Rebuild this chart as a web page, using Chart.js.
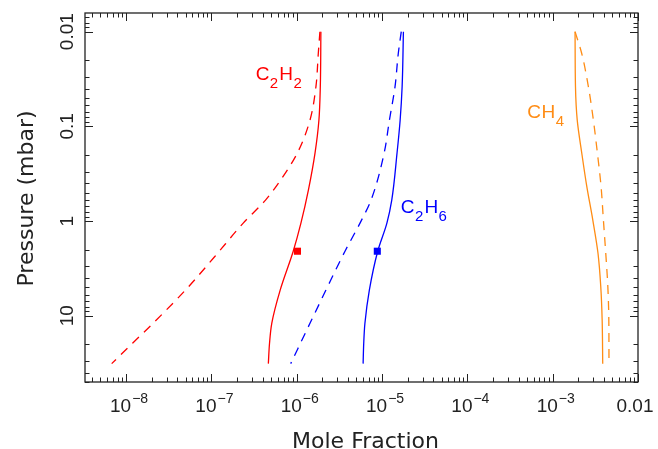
<!DOCTYPE html>
<html>
<head>
<meta charset="utf-8">
<script src="https://cdn.jsdelivr.net/npm/chart.js@4.4.1/dist/chart.umd.min.js"></script>
<style>
    html, body { margin: 0; padding: 0; background: #fff; }
    #wrap { width: 658px; height: 449px; }
</style>
</head>
<body>
<div id="wrap"><canvas id="chart" width="658" height="449"></canvas></div>
<script>
// axis ranges (mole fraction, pressure in mbar)
const xMin = 3.3e-9, xMax = 0.01;
const yMin = 0.00635, yMax = 50;

// tick labels
const xTickValues = [1e-8, 1e-7, 1e-6, 1e-5, 1e-4, 1e-3, 1e-2];
const xTickLabels = [["10", "\u22128"], ["10", "\u22127"], ["10", "\u22126"], ["10", "\u22125"], ["10", "\u22124"], ["10", "\u22123"], ["0.01", ""]];
const yTickValues = [0.01, 0.1, 1, 10];
const yTickLabels = ["0.01", "0.1", "1", "10"];

// C2H2 profiles
const c2h2SolidP = [0.01, 0.038, 0.086, 0.19, 0.47, 1.05, 2.08, 5.35, 12, 19.5, 32];
const c2h2SolidX = [1.92e-6, 1.89e-6, 1.82e-6, 1.64e-6, 1.37e-6, 1.12e-6, 9.1e-7, 6.4e-7, 5.1e-7, 4.8e-7, 4.65e-7];
const c2h2DashP = [0.01, 0.017, 0.038, 0.086, 0.19, 0.37, 0.6, 1.05, 2.38, 5.35, 12, 19.5, 32];
const c2h2DashX = [1.87e-6, 1.79e-6, 1.68e-6, 1.43e-6, 1.02e-6, 6.46e-7, 4.31e-7, 2.36e-7, 1.09e-7, 4.97e-8, 2.07e-8, 1.19e-8, 6.78e-9];

// C2H6 profiles
const c2h6SolidP = [0.01, 0.038, 0.086, 0.19, 0.6, 1.05, 2.08, 5.35, 12, 19.5, 32];
const c2h6SolidX = [1.78e-5, 1.72e-5, 1.63e-5, 1.5e-5, 1.3e-5, 1.14e-5, 8.9e-6, 7.1e-6, 6.3e-6, 6.1e-6, 6.0e-6];
const c2h6DashP = [0.01, 0.017, 0.038, 0.086, 0.19, 0.6, 1.05, 2.08, 5.35, 12, 32];
const c2h6DashX = [1.68e-5, 1.55e-5, 1.42e-5, 1.22e-5, 1.06e-5, 7.43e-6, 5.52e-6, 3.68e-6, 2.2e-6, 1.43e-6, 8.5e-7];

// CH4 profiles
const ch4SolidP = [0.01, 0.038, 0.086, 0.19, 0.43, 0.97, 2.2, 4.9, 11, 32];
const ch4SolidX = [1.83e-3, 1.85e-3, 1.94e-3, 2.19e-3, 2.51e-3, 2.95e-3, 3.4e-3, 3.66e-3, 3.8e-3, 3.86e-3];
const ch4DashP = [0.01, 0.017, 0.038, 0.086, 0.19, 0.43, 0.97, 2.2, 4.9, 11, 32];
const ch4DashX = [1.83e-3, 2.19e-3, 2.62e-3, 3.0e-3, 3.34e-3, 3.69e-3, 3.93e-3, 4.19e-3, 4.43e-3, 4.55e-3, 4.57e-3];

// observed values
const c2h2Obs = [{ x: 1.02e-6, y: 2.08 }];
const c2h6Obs = [{ x: 8.8e-6, y: 2.08 }];

const RED = "#ff0000";
const BLUE = "#0000ff";
const ORANGE = "rgb(255,140,20)";
const INK = "#222";

// species names, anchored at text start / baseline (data coords)
const speciesLabels = [
    { text: "C2H2", color: RED, x: 3.3e-7, p: 0.032 },
    { text: "C2H6", color: BLUE, x: 1.66e-5, p: 0.82 },
    { text: "CH4", color: ORANGE, x: 5.05e-4, p: 0.0815 }
];

function toPoints(xs, ps) {
    return ps.map((p, i) => ({ x: xs[i], y: p }));
}

function profile(xs, ps, color, dashed) {
    return {
        data: toPoints(xs, ps),
        borderColor: color,
        borderWidth: 1.3,
        borderDash: dashed ? [9, 7] : [],
        pointRadius: 0,
        cubicInterpolationMode: "monotone",
        fill: false
    };
}

function obs(points, color) {
    return {
        data: points,
        showLine: false,
        pointStyle: "rect",
        pointRadius: 5,
        pointBorderWidth: 0,
        pointBackgroundColor: color,
        pointBorderColor: color
    };
}

// all 1..9 x 10^n values inside a range
function logTicks(min, max) {
    const out = [];
    for (let e = Math.floor(Math.log10(min)); e <= Math.ceil(Math.log10(max)); e++) {
        for (let m = 1; m <= 9; m++) {
            const v = m * Math.pow(10, e);
            if (v >= min * 0.999 && v <= max * 1.001) out.push({ v, major: m === 1 });
        }
    }
    return out;
}

const frameAxes = {
    id: "frameAxes",
    afterDraw(chart) {
        const g = chart.ctx;
        const a = chart.chartArea;
        const sx = chart.scales.x, sy = chart.scales.y;
        g.save();
        g.strokeStyle = INK;
        g.lineWidth = 1.3;
        g.strokeRect(a.left, a.top, a.right - a.left, a.bottom - a.top);

        // inward ticks on all four sides
        g.lineWidth = 1;
        g.beginPath();
        logTicks(xMin, xMax).forEach(t => {
            const px = Math.round(sx.getPixelForValue(t.v)) + 0.5;
            const len = t.major ? 8 : 4.5;
            g.moveTo(px, a.bottom); g.lineTo(px, a.bottom - len);
            g.moveTo(px, a.top); g.lineTo(px, a.top + len);
        });
        logTicks(yMin, yMax).forEach(t => {
            const py = Math.round(sy.getPixelForValue(t.v)) + 0.5;
            const len = t.major ? 8 : 4.5;
            g.moveTo(a.left, py); g.lineTo(a.left + len, py);
            g.moveTo(a.right, py); g.lineTo(a.right - len, py);
        });
        g.stroke();

        // x tick labels with superscript exponents
        g.fillStyle = INK;
        g.textBaseline = "alphabetic";
        g.textAlign = "left";
        xTickValues.forEach((v, i) => {
            const [base, exp] = xTickLabels[i];
            const px = sx.getPixelForValue(v);
            g.font = "19px 'Liberation Sans'";
            const wb = g.measureText(base).width;
            g.font = "14px 'Liberation Sans'";
            const we = exp ? g.measureText(exp).width + 1 : 0;
            const x0 = px - (wb + we) / 2 + (exp ? 3 : -3);
            g.font = "19px 'Liberation Sans'";
            g.fillText(base, x0, a.bottom + 30);
            if (exp) {
                g.font = "14px 'Liberation Sans'";
                g.fillText(exp, x0 + wb + 1, a.bottom + 21);
            }
        });

        // y tick labels, rotated to read upwards
        g.font = "19px 'Liberation Sans'";
        g.textAlign = "center";
        yTickValues.forEach((v, i) => {
            const py = sy.getPixelForValue(v);
            g.save();
            g.setTransform(0, -1, 1, 0, a.left - 12, py);
            g.fillText(yTickLabels[i], 0, 0);
            g.restore();
        });

        // axis titles
        g.font = "22px 'DejaVu Sans'";
        g.fillText("Mole Fraction", (a.left + a.right) / 2 + 4, 448);
        g.save();
        g.setTransform(0, -1, 1, 0, 33, (a.top + a.bottom) / 2 + 1);
        g.fillText("Pressure (mbar)", 0, 0);
        g.restore();

        // species names with subscripted digits
        g.textAlign = "left";
        speciesLabels.forEach(l => {
            let x = sx.getPixelForValue(l.x);
            const y = sy.getPixelForValue(l.p);
            g.fillStyle = l.color;
            for (const ch of l.text) {
                const sub = /[0-9]/.test(ch);
                g.font = sub ? "15px 'Liberation Sans'" : "19px 'Liberation Sans'";
                g.fillText(ch, x, sub ? y + 8 : y);
                x += g.measureText(ch).width + (sub ? 1 : 0.5);
            }
        });
        g.restore();
    }
};

new Chart(document.getElementById("chart"), {
    type: "line",
    data: {
        datasets: [
            profile(c2h2SolidX, c2h2SolidP, RED, false),
            profile(c2h2DashX, c2h2DashP, RED, true),
            profile(c2h6SolidX, c2h6SolidP, BLUE, false),
            profile(c2h6DashX, c2h6DashP, BLUE, true),
            profile(ch4SolidX, ch4SolidP, ORANGE, false),
            profile(ch4DashX, ch4DashP, ORANGE, true),
            obs(c2h2Obs, RED),
            obs(c2h6Obs, BLUE)
        ]
    },
    options: {
        indexAxis: "y",
        responsive: false,
        animation: false,
        devicePixelRatio: 1,
        layout: { padding: { left: 0, right: 20, top: 13, bottom: 0 } },
        plugins: {
            legend: { display: false },
            tooltip: { enabled: false }
        },
        scales: {
            x: {
                type: "logarithmic",
                position: "bottom",
                min: xMin,
                max: xMax,
                grid: { display: false },
                border: { display: false },
                ticks: { display: false },
                afterFit(s) { s.height = 67; }
            },
            y: {
                type: "logarithmic",
                position: "left",
                reverse: true,
                min: yMin,
                max: yMax,
                grid: { display: false },
                border: { display: false },
                ticks: { display: false },
                afterFit(s) { s.width = 85; }
            }
        }
    },
    plugins: [frameAxes]
});
</script>
</body>
</html>
